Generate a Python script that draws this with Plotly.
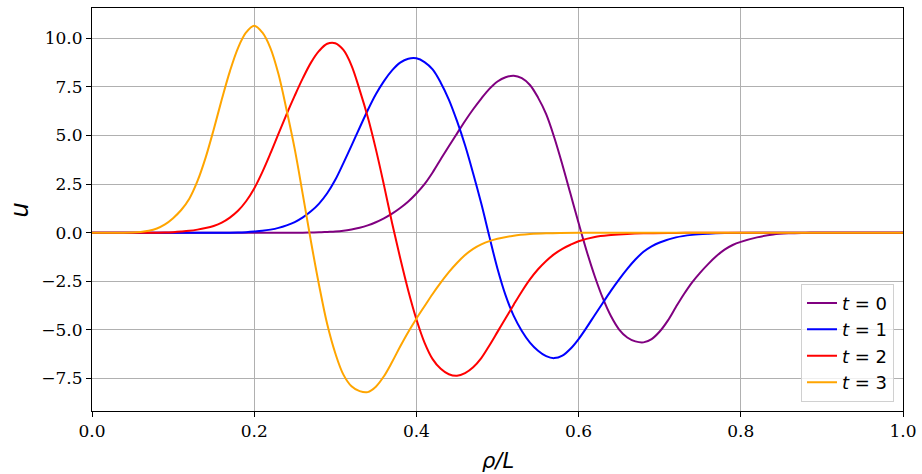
import plotly.graph_objects as go

# Profiles u(rho/L) at four instants (values read on a 0.01 grid where the curve is active)
x_t0 = [0, 0.26, 0.27, 0.28, 0.29, 0.30, 0.31, 0.32, 0.33, 0.34, 0.35, 0.36, 0.37, 0.38, 0.39,
        0.40, 0.41, 0.42, 0.43, 0.44, 0.45, 0.46, 0.47, 0.48, 0.49, 0.50, 0.51, 0.52, 0.53,
        0.54, 0.55, 0.56, 0.57, 0.58, 0.59, 0.60, 0.61, 0.62, 0.63, 0.64, 0.65, 0.66, 0.67,
        0.68, 0.69, 0.70, 0.71, 0.72, 0.73, 0.74, 0.75, 0.76, 0.77, 0.78, 0.79, 0.80, 0.82,
        0.84, 0.86, 0.88, 0.90, 1.0]
u_t0 = [0, 0.0, 0.01, 0.02, 0.04, 0.06, 0.10, 0.17, 0.26, 0.38, 0.54, 0.74, 0.98, 1.27, 1.61,
        2.02, 2.50, 3.10, 3.78, 4.45, 5.10, 5.75, 6.35, 6.90, 7.40, 7.78, 8.00, 8.08, 7.95,
        7.60, 6.95, 6.10, 4.90, 3.50, 2.00, 0.50, -0.95, -2.25, -3.38, -4.30, -4.98, -5.39, -5.59,
        -5.64, -5.47, -5.08, -4.52, -3.82, -3.15, -2.55, -2.05, -1.60, -1.20, -0.87, -0.63, -0.47, -0.24,
        -0.09, -0.03, -0.01, 0, 0]

x_t1 = [0, 0.17, 0.18, 0.19, 0.20, 0.21, 0.22, 0.23, 0.24, 0.25, 0.26, 0.27, 0.28, 0.29,
        0.30, 0.31, 0.32, 0.33, 0.34, 0.35, 0.36, 0.37, 0.38, 0.39, 0.40, 0.41, 0.42, 0.43,
        0.44, 0.45, 0.46, 0.47, 0.48, 0.49, 0.50, 0.51, 0.52, 0.53, 0.54, 0.55, 0.56, 0.57,
        0.58, 0.59, 0.60, 0.61, 0.62, 0.63, 0.64, 0.65, 0.66, 0.67, 0.68, 0.69, 0.70, 0.72,
        0.74, 0.76, 0.78, 0.82, 1.0]
u_t1 = [0, 0.0, 0.01, 0.03, 0.06, 0.10, 0.16, 0.25, 0.38, 0.55, 0.79, 1.10, 1.50, 2.03,
        2.72, 3.58, 4.48, 5.40, 6.30, 7.12, 7.80, 8.35, 8.75, 8.95, 8.97, 8.78, 8.40, 7.72,
        6.85, 5.75, 4.50, 3.05, 1.50, -0.20, -1.85, -3.22, -4.28, -5.05, -5.65, -6.07, -6.35, -6.45,
        -6.32, -5.97, -5.47, -4.87, -4.23, -3.60, -2.98, -2.40, -1.86, -1.38, -0.98, -0.70, -0.50, -0.24,
        -0.11, -0.05, -0.02, 0, 0]

x_t2 = [0, 0.08, 0.09, 0.10, 0.11, 0.12, 0.13, 0.14, 0.15, 0.16, 0.17, 0.18, 0.19, 0.20,
        0.21, 0.22, 0.23, 0.24, 0.25, 0.26, 0.27, 0.28, 0.29, 0.30, 0.31, 0.32, 0.33, 0.34,
        0.35, 0.36, 0.37, 0.38, 0.39, 0.40, 0.41, 0.42, 0.43, 0.44, 0.45, 0.46, 0.47, 0.48,
        0.49, 0.50, 0.51, 0.52, 0.53, 0.54, 0.55, 0.56, 0.57, 0.58, 0.59, 0.60, 0.62, 0.64,
        0.66, 0.68, 0.72, 0.76, 1.0]
u_t2 = [0, 0.0, 0.01, 0.03, 0.06, 0.10, 0.16, 0.24, 0.35, 0.52, 0.78, 1.13, 1.62, 2.28,
        3.12, 4.08, 5.10, 6.10, 7.05, 7.95, 8.75, 9.35, 9.72, 9.75, 9.40, 8.60, 7.35, 5.95,
        4.30, 2.45, 0.50, -1.30, -2.98, -4.45, -5.65, -6.50, -7.00, -7.28, -7.36, -7.22, -6.92, -6.45,
        -5.80, -5.10, -4.40, -3.70, -3.02, -2.40, -1.88, -1.45, -1.10, -0.83, -0.62, -0.44, -0.22, -0.12,
        -0.06, -0.03, -0.01, 0, 0]

x_t3 = [0, 0.05, 0.06, 0.07, 0.08, 0.09, 0.10, 0.11, 0.12, 0.13, 0.14, 0.15, 0.16, 0.17,
        0.18, 0.19, 0.20, 0.21, 0.22, 0.23, 0.24, 0.25, 0.26, 0.27, 0.28, 0.29, 0.30, 0.31,
        0.32, 0.33, 0.34, 0.35, 0.36, 0.37, 0.38, 0.39, 0.40, 0.41, 0.42, 0.43, 0.44, 0.45,
        0.46, 0.47, 0.48, 0.49, 0.50, 0.52, 0.54, 0.56, 0.60, 1.0]
u_t3 = [0, 0.01, 0.04, 0.10, 0.22, 0.43, 0.75, 1.17, 1.75, 2.65, 3.85, 5.30, 6.85, 8.30,
        9.50, 10.30, 10.65, 10.30, 9.50, 8.15, 6.30, 4.30, 1.95, -0.45, -2.70, -4.70, -6.20, -7.30,
        -7.90, -8.15, -8.20, -7.92, -7.38, -6.65, -5.85, -5.10, -4.42, -3.78, -3.15, -2.57, -2.03, -1.56,
        -1.15, -0.83, -0.60, -0.43, -0.31, -0.15, -0.07, -0.03, 0, 0]

series = [
    ("t", "0", x_t0, u_t0, "#800080"),
    ("t", "1", x_t1, u_t1, "#0000ff"),
    ("t", "2", x_t2, u_t2, "#ff0000"),
    ("t", "3", x_t3, u_t3, "#ffa500"),
]

x_ticks = [0.0, 0.2, 0.4, 0.6, 0.8, 1.0]
y_ticks = [-7.5, -5.0, -2.5, 0.0, 2.5, 5.0, 7.5, 10.0]

fig = go.Figure()
for var, val, xs, us, col in series:
    fig.add_trace(go.Scatter(
        x=xs, y=us, mode="lines",
        line=dict(color=col, width=2, shape="spline", smoothing=1.0),
        name=f"<i>{var}</i> = {val}",
    ))

tick_font = dict(family="DejaVu Serif", size=17, color="#000000")
axis_common = dict(
    showgrid=True, gridcolor="#b0b0b0", gridwidth=1,
    zeroline=False, showline=True, linecolor="#000000", linewidth=1, mirror=True,
    ticks="outside", ticklen=5, tickcolor="#000000", tickwidth=1,
    tickfont=tick_font, automargin=False,
)

# Axis titles placed as paper-anchored labels so the plotting area stays fixed
label_font_x = dict(family="DejaVu Sans", size=21, color="#000000")
label_font_y = dict(family="DejaVu Sans", size=24, color="#000000")

fig.update_layout(
    width=922, height=474,
    margin=dict(l=92, r=19, t=8, b=63),
    paper_bgcolor="white", plot_bgcolor="white",
    xaxis=dict(range=[0, 1], tickvals=x_ticks, tickformat=".1f", **axis_common),
    yaxis=dict(range=[-9.17, 11.56], tickvals=y_ticks, tickformat=".1f", **axis_common),
    legend=dict(
        x=0.9889, y=0.023, xanchor="right", yanchor="bottom",
        bgcolor="rgba(255,255,255,0.8)", bordercolor="#d0d0d0", borderwidth=1,
        font=dict(family="DejaVu Sans", size=18, color="#000000"),
    ),
    showlegend=True,
    annotations=[
        dict(text="<i>ρ/L</i>", xref="paper", yref="paper", x=0.5, y=-0.123,
             xanchor="center", yanchor="middle", showarrow=False, font=label_font_x),
        dict(text="<i>u</i>", xref="paper", yref="paper", x=-0.0888, y=0.5,
             xanchor="center", yanchor="middle", showarrow=False, textangle=-90,
             font=label_font_y),
    ],
)

fig.write_html("out.html")
